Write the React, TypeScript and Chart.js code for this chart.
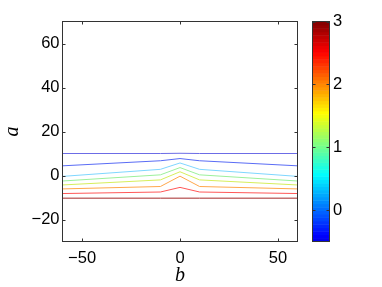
import { useEffect, useRef } from "react";
import { Chart, registerables } from "chart.js";

Chart.register(...registerables);

// ---- data ----
const bValues = [-60, -10, 0, 10, 60];
const level1 = [10, 10, 10.1, 10, 10];
const level2 = [4.4, 6.7, 7.7, 6.7, 4.4];
const level3 = [-0.4, 2.8, 5.7, 2.8, -0.4];
const level4 = [-2.5, 0.3, 3.6, 0.3, -2.5];
const level5 = [-4.3, -2.0, 1.7, -2.0, -4.3];
const level6 = [-6.1, -5.0, -0.3, -5.0, -6.1];
const level7 = [-8.2, -7.5, -5.4, -7.5, -8.2];
const level8 = [-10.3, -10.3, -10.3, -10.3, -10.3];
const levels = [level1, level2, level3, level4, level5, level6, level7, level8];
const levelColors = ["#6c6ce6", "#5a6cf5", "#7fd6ff", "#9cf09c", "#d6ee5c", "#ffa84c", "#ff5858", "#a52a2a"];

const xTicks = [-50, 0, 50];
const yTicks = [-20, 0, 20, 40, 60];
const cbTicks = [0, 1, 2, 3];
const cbMin = -0.5;
const cbMax = 3;
const xMin = -60, xMax = 60, yMin = -30, yMax = 70;

const W = 382, H = 287;
const AREA = { left: 62.5, top: 21.5, right: 297.5, bottom: 241.5 };
const tickFont = { family: "'Liberation Sans', Arial, sans-serif", size: 16.5 };
const titleFont = { family: "'Liberation Serif', 'Times New Roman', serif", size: 20, style: "italic" as const, lineHeight: 1.1 };

const fmt = (v: any) => {
  const n = Number(v);
  return n < 0 ? "\u2212" + Math.abs(n) : String(n);
};

function jet(t: number): string {
  const c = (x: number) => Math.max(0, Math.min(1, x));
  const r = c(1.5 - Math.abs(4 * t - 3));
  const g = c(1.5 - Math.abs(4 * t - 2));
  const b = c(1.5 - Math.abs(4 * t - 1));
  return `rgb(${Math.round(r * 255)},${Math.round(g * 255)},${Math.round(b * 255)})`;
}

function setBox(s: any, left: number, top: number, right: number, bottom: number) {
  s.left = left;
  s.top = top;
  s.right = right;
  s.bottom = bottom;
  s.width = right - left;
  s.height = bottom - top;
  s._labelItems = null;
  s._gridLineItems = null;
  s.configure();
}

const fixLayoutPlugin = {
  id: "fixLayout",
  afterLayout(chart: any) {
    const { left, top, right, bottom } = AREA;
    chart.chartArea = { left, top, right, bottom, width: right - left, height: bottom - top };
    setBox(chart.scales.x, left, bottom, right, H);
    setBox(chart.scales.y, 0, top, left, bottom);
    setBox(chart.scales.cb, right, top, W, bottom);
  },
};

const matlabPlugin = {
  id: "matlabAxes",
  afterDraw(chart: any) {
    const { ctx, chartArea } = chart;
    const { left, right, top, bottom } = chartArea;
    const xs = chart.scales.x;
    const ys = chart.scales.y;
    const cb = chart.scales.cb;
    ctx.save();
    ctx.strokeStyle = "#333";
    ctx.lineWidth = 1;
    ctx.strokeRect(left, top, right - left, bottom - top);
    const tl = 3;
    ctx.beginPath();
    xTicks.forEach((v) => {
      const px = Math.round(xs.getPixelForValue(v)) + 0.5;
      ctx.moveTo(px, bottom);
      ctx.lineTo(px, bottom - tl);
      ctx.moveTo(px, top);
      ctx.lineTo(px, top + tl);
    });
    yTicks.forEach((v) => {
      const py = Math.round(ys.getPixelForValue(v)) + 0.5;
      ctx.moveTo(left, py);
      ctx.lineTo(left + tl, py);
      ctx.moveTo(right, py);
      ctx.lineTo(right - tl, py);
    });
    ctx.stroke();

    // colorbar
    const cbL = 312.5, cbR = 329.5;
    const n = 64;
    const t0 = 0.1;
    for (let i = 0; i < n; i++) {
      const v0 = cbMin + (i * (cbMax - cbMin)) / n;
      const v1 = cbMin + ((i + 1) * (cbMax - cbMin)) / n;
      const y0 = cb.getPixelForValue(v0);
      const y1 = cb.getPixelForValue(v1);
      ctx.fillStyle = jet(t0 + (1 - t0) * ((i + 0.5) / n));
      ctx.fillRect(cbL, y1, cbR - cbL, y0 - y1 + 0.5);
    }
    ctx.strokeStyle = "#333";
    ctx.strokeRect(cbL, top, cbR - cbL, bottom - top);
    ctx.beginPath();
    cbTicks.forEach((v) => {
      const py = Math.round(cb.getPixelForValue(v)) + 0.5;
      ctx.moveTo(cbL, py);
      ctx.lineTo(cbL + 3, py);
      ctx.moveTo(cbR, py);
      ctx.lineTo(cbR - 3, py);
    });
    ctx.stroke();
    ctx.restore();
  },
};

export default function App() {
  const ref = useRef<HTMLCanvasElement | null>(null);
  useEffect(() => {
    if (!ref.current) return;
    const chart = new Chart(ref.current, {
      type: "scatter",
      data: {
        datasets: levels.map((arr, i) => ({
          data: arr.map((y, j) => ({ x: bValues[j], y })),
          showLine: true,
          borderColor: levelColors[i],
          backgroundColor: levelColors[i],
          borderWidth: 1,
          pointRadius: 0,
          tension: 0,
        })),
      },
      options: {
        animation: false,
        responsive: false,
        devicePixelRatio: 1,
        layout: { padding: 0 },
        plugins: { legend: { display: false }, tooltip: { enabled: false } },
        scales: {
          x: {
            type: "linear",
            position: "bottom",
            min: xMin,
            max: xMax,
            afterBuildTicks: (s: any) => {
              s.ticks = xTicks.map((v) => ({ value: v }));
            },
            grid: { display: false, drawTicks: false },
            border: { display: false },
            ticks: { padding: 7, color: "#000", font: tickFont, callback: fmt, maxRotation: 0, autoSkip: false },
            title: { display: true, text: "b", color: "#000", font: titleFont, padding: { top: 0, bottom: 0.5 } },
          },
          y: {
            type: "linear",
            position: "left",
            min: yMin,
            max: yMax,
            afterBuildTicks: (s: any) => {
              s.ticks = yTicks.map((v) => ({ value: v }));
            },
            grid: { display: false, drawTicks: false },
            border: { display: false },
            ticks: { padding: 3, color: "#000", font: tickFont, callback: fmt, autoSkip: false },
            title: { display: true, text: "a", color: "#000", font: titleFont, padding: { top: 1.8, bottom: 0 } },
          },
          cb: {
            type: "linear",
            position: "right",
            min: cbMin,
            max: cbMax,
            afterBuildTicks: (s: any) => {
              s.ticks = cbTicks.map((v) => ({ value: v }));
            },
            grid: { display: false, drawTicks: false },
            border: { display: false },
            ticks: { padding: 35.5, color: "#000", font: tickFont, callback: fmt, autoSkip: false },
          },
        },
      },
      plugins: [fixLayoutPlugin, matlabPlugin],
    } as any);
    return () => chart.destroy();
  }, []);
  return (
    <div style={{ position: "fixed", left: 0, top: 0, width: W, height: H, background: "#fff" }}>
      <canvas ref={ref} width={W} height={H} style={{ width: W, height: H, display: "block" }} />
    </div>
  );
}
